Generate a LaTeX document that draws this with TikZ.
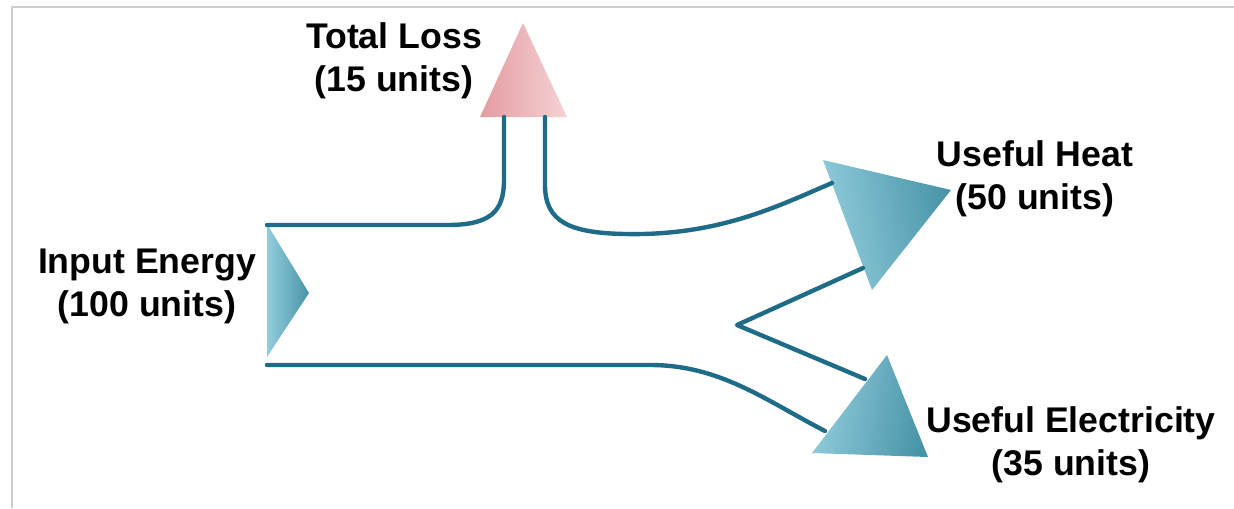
\documentclass[tikz,border=0pt]{standalone}
\usepackage{fontspec}
\setmainfont{Liberation Sans}
\usepackage{tikz}
\usetikzlibrary{positioning,calc}
\usepackage{xcolor}
\definecolor{flowteal}{RGB}{30,108,135}
\definecolor{arrowlight}{RGB}{146,205,220}
\definecolor{arrowdark}{RGB}{72,148,168}
\definecolor{losslight}{RGB}{246,210,212}
\definecolor{lossdark}{RGB}{228,156,162}
\definecolor{framegray}{RGB}{205,205,205}

\begin{document}
\begin{tikzpicture}[
        x=0.02cm,
        y=-0.02cm,
        label/.style={
            align=center,
            inner sep=0pt,
            font=\fontsize{20.3}{24.5}\selectfont\bfseries
        },
        flow/.style={draw=flowteal, line width=2.5pt, line cap=round, line join=round},
        frame/.style={draw=framegray, line width=1.1pt}
    ]

    \useasboundingbox (0,0) rectangle (1234,508);

    % FRAME
    \coordinate (fr_top) at (1234,7);
    \coordinate (fr_corner) at (12,7);
    \coordinate (fr_bottom) at (12,508);
    \draw[frame] (fr_top) -- (fr_corner) -- (fr_bottom);

    % ============================================================
    % ARROW HEADS
    % ============================================================
    % input
    \coordinate (in_top) at (267,224);
    \coordinate (in_bot) at (267,357);
    \coordinate (in_tip) at (309,293);
    \shade[left color=arrowlight, right color=arrowdark] (in_top) -- (in_tip) -- (in_bot) -- cycle;

    % total loss
    \coordinate (loss_tip) at (523,23);
    \coordinate (loss_l) at (480,117);
    \coordinate (loss_r) at (567,117);
    \shade[left color=lossdark, right color=losslight] (loss_l) -- (loss_tip) -- (loss_r) -- cycle;

    % useful heat
    \coordinate (heat_a) at (823,160);
    \coordinate (heat_tip) at (951,190);
    \coordinate (heat_b) at (872,290);
    \shade[left color=arrowlight, right color=arrowdark, shading angle=100] (heat_a) -- (heat_tip) -- (heat_b) -- cycle;

    % useful electricity
    \coordinate (elec_tip) at (887,355);
    \coordinate (elec_a) at (812,453);
    \coordinate (elec_b) at (928,457);
    \shade[left color=arrowlight, right color=arrowdark, shading angle=80] (elec_tip) -- (elec_b) -- (elec_a) -- cycle;

    % ============================================================
    % FLOW LINES
    % ============================================================
    \coordinate (in_top_end) at (267,225);
    \coordinate (in_bot_end) at (267,365);
    \coordinate (loss_in_l) at (504,117);
    \coordinate (loss_in_r) at (545,117);
    \coordinate (heat_in) at (832,183);
    \coordinate (heat_out) at (863,268);
    \coordinate (split) at (737,325);
    \coordinate (elec_in_top) at (865,379);
    \coordinate (elec_in) at (825,431);

    \draw[flow] (in_top_end) -- (447,225)
        .. controls (490,225) and (504,212) .. (504,180) -- (loss_in_l);
    \draw[flow] (loss_in_r) -- (545,185)
        .. controls (545,222) and (570,233) .. (625,234)
        .. controls (720,236) and (780,205) .. (heat_in);
    \draw[flow] (in_bot_end) -- (650,365)
        .. controls (720,365) and (765,400) .. (elec_in);
    \draw[flow] (heat_out) -- (split) -- (elec_in_top);

    % ============================================================
    % LABELS
    % ============================================================
    \node[label] (loss_lbl) at (394,61) {Total Loss\\(15 units)};
    \node[label] (in_lbl) at (147,286) {Input Energy\\(100 units)};
    \node[label] (heat_lbl) at (1035,179) {Useful Heat\\(50 units)};
    \node[label] (elec_lbl) at (1071,445) {Useful Electricity\\(35 units)};

\end{tikzpicture}
\end{document}
